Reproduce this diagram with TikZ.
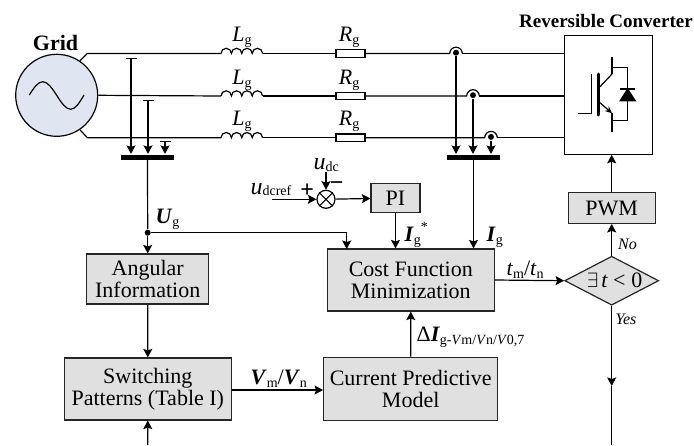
\documentclass[tikz,border=0pt]{standalone}
\usepackage{fontspec}
\setmainfont{Liberation Serif}
\usetikzlibrary{arrows.meta,shapes.geometric}
\definecolor{gridFill}{HTML}{E0E6F1}
\newcommand{\subTxt}[2][-3pt]{\raisebox{#1}{\fontsize{14}{14}\selectfont #2}}
\newcommand{\vecTxt}[1]{\textbf{\textit{#1}}}
\newcommand{\volTxt}{{\fontsize{24}{24}\selectfont\textit{u}}}
\tikzset{gridBlock/.style={draw=black!85,fill=black!12,rectangle,inner sep=0pt,align=center,font=\fontsize{22}{22}\selectfont},
 gridLabel/.style={anchor=base west,inner sep=0pt,font=\fontsize{22}{22}\selectfont},
 gridNote/.style={anchor=base,inner sep=0pt,font=\fontsize{16}{16}\selectfont\itshape},
 gridBus/.style={fill=black,rectangle,minimum width=53pt,minimum height=5pt,inner sep=0pt},
 gridFlow/.style={-{Stealth[length=8.5pt,width=9pt,inset=1.5pt]}},
 gridTap/.style={{Bar[width=11pt]}-{Stealth[length=8.5pt,width=9pt,inset=1.5pt]}},
 gridDot/.style={fill=black,circle,minimum size=6pt,inner sep=0pt}}

\begin{document}
\begin{tikzpicture}[x=1pt,y=-1pt,line width=1.2pt]
\useasboundingbox (0,0) rectangle (694,445);
\node[draw,circle,fill=gridFill,minimum size=82pt,inner sep=0pt] (grid) at (56.7,95.3) {};
\draw (29.3,95) sin (42.7,81.7) cos (56.7,95.3) sin (70.7,109.3) cos (84,95);
\node[gridLabel,anchor=base,font=\fontsize{22}{22}\selectfont\bfseries] (gridName) at (55.5,50.7) {Grid};
\node[draw,fill=white,rectangle,minimum width=88pt,minimum height=119pt,inner sep=0pt] (conv) at (608.3,94.7) {};
\node[gridLabel,anchor=base,font=\fontsize{19}{19}\selectfont\bfseries] (convName) at (606,27) {Reversible Converter};
\node[gridBus] (busL) at (147.5,157) {};
\node[gridBus] (busR) at (473.5,157) {};
% three phases
\foreach \n/\yy/\sx/\tx/\ty in {1/53.5/456/131/57.7,2/96/473/148/99.7,3/137.7/491/165/141}{
\coordinate (lIn\n) at (221,\yy);
\coordinate (hIn\n) at (\sx-6.3,\yy);
\coordinate (hOut\n) at (\sx+6.3,\yy);
\coordinate (knee\n) at (87.3,\yy);
\coordinate (tap\n) at (\tx,\ty);
\node[draw,fill=white,rectangle,minimum width=29pt,minimum height=7.4pt,inner sep=0pt] (r\n) at (350.4,\yy) {};
\node[gridDot] (sense\n) at (\sx,\yy-0.8) {};
\node[gridLabel] (lName\n) at (231.7,\yy-11.8) {\textit{L}\subTxt{g}};
\node[gridLabel] (rName\n) at (338.3,\yy-11.8) {\textit{R}\subTxt{g}};
\draw (lIn\n) arc (180:360:5.2) arc (180:360:5.2) arc (180:360:5.2) arc (180:360:5.2) coordinate (lOut\n);
\draw (lOut\n)--(r\n);
\draw (r\n)--(hIn\n) arc (180:360:6.3);
\draw (hOut\n)--(hOut\n -| conv.west);
\draw[gridTap] (tap\n)--(tap\n |- busL.north);
\draw[gridFlow] (sense\n)--(sense\n |- busR.north);}
\draw (grid.56)--(knee1)--(lIn1);
\draw (grid.east)--(lIn2);
\draw (grid.-56)--(knee3)--(lIn3);
% switch symbol
\draw (578.3,113.7)--(591.3,113.7)--(591.3,74);
\draw[line width=3pt,line cap=round] (598,74)--(598,115);
\draw (600,86.7)--(612,74);
\draw (612,57.3)--(612,74);
\draw[-{Stealth[length=7pt,width=6pt]}] (600,102.7)--(612,113.3);
\draw (612,113)--(612,131.7);
\draw (612,67.3)--(627.7,67.3)--(627.7,120.7)--(612,120.7);
\draw[fill=black] (627.7,89)--(620.2,100.7)--(635.2,100.7)--cycle;
\draw (620,89)--(635.4,89);
% blocks
\node[gridBlock,minimum width=122pt,minimum height=50pt] (angle) at (147.7,279) {Angular\\Information};
\node[gridBlock,minimum width=167pt,minimum height=62pt] (pattern) at (147.8,389) {Switching\\Patterns (Table I)};
\node[gridBlock,minimum width=167pt,minimum height=62pt] (cost) at (410.8,280) {Cost Function\\Minimization};
\node[gridBlock,minimum width=174pt,minimum height=63pt] (model) at (410.7,388.7) {Current Predictive\\Model};
\node[gridBlock,minimum width=49pt,minimum height=29.4pt] (pi) at (395.5,198) {PI};
\node[gridBlock,minimum width=87pt,minimum height=30.6pt] (pwm) at (611.7,208) {PWM};
\node[gridBlock,diamond,minimum width=94pt,minimum height=49pt,shape aspect=1.92] (check) at (611.7,280.7) {\hspace*{6pt}$\exists$\kern3pt\textit{t}\kern5pt<\kern6pt0};
\node[draw,fill=white,circle,minimum size=18pt,inner sep=0pt] (sum) at (326,199.3) {};
\draw[line width=1pt] (sum.45)--(sum.225) (sum.135)--(sum.-45);
\node[gridDot] (uTee) at (147.7,232.7) {};
\coordinate (refIn) at (272.3,199.3);
\coordinate (dcIn) at (326,172);
\coordinate (patIn) at (147.7,445);
\coordinate (yesTip) at (611.7,386);
\coordinate (yesOut) at (611.7,445);
% connectors
\draw (busL.south)--(uTee);
\draw[gridFlow] (uTee)--(angle.north);
\draw[gridFlow] (uTee)-|(346.7,249);
\draw[gridFlow] (angle.south)--(pattern.north);
\draw[gridFlow] (patIn)--(pattern.south);
\draw[gridFlow] (pattern.east |- 0,390)--(model.west |- 0,390);
\draw[gridFlow] (model.north)--(cost.south);
\draw[gridFlow] (refIn)--(sum);
\draw[gridFlow] (dcIn)--(sum);
\draw[gridFlow] (sum)--(pi);
\draw[gridFlow] (pi)--(pi |- cost.north);
\draw[gridFlow] (busR.south)--(busR |- cost.north);
\draw[gridFlow] (cost.east)--(check.west);
\draw[gridFlow] (check.north)--(pwm.south);
\draw[gridFlow] (pwm.north)--(pwm |- conv.south);
\draw[gridFlow] (check.south)--(yesTip);
\draw (yesTip)--(yesOut);
% labels
\node[gridLabel] (uName) at (155,223.3) {\vecTxt{U}\subTxt{g}};
\node[gridLabel] (dcName) at (313,169.5) {\volTxt\subTxt[-1.5pt]{dc}};
\node[gridLabel] (refName) at (250,194) {\volTxt\subTxt[-1.5pt]{dcref}};
\node[gridLabel,anchor=center,font=\fontsize{24}{24}\selectfont\bfseries] (plusMark) at (307.3,190.5) {+};
\node[gridLabel,anchor=center,font=\fontsize{24}{24}\selectfont\bfseries] (minusMark) at (336.7,186.5) {\textminus};
\node[gridLabel] (iRefName) at (404,241) {\vecTxt{I}\subTxt{g}\raisebox{10pt}{\fontsize{14}{14}\selectfont *}};
\node[gridLabel] (iName) at (486,241) {\vecTxt{I}\subTxt{g}};
\node[gridLabel] (tName) at (506,275) {\textit{t}\subTxt{m}/\textit{t}\subTxt{n}};
\node[gridLabel] (dName) at (416,341.7) {Δ\vecTxt{I}\subTxt{g-\textit{V}m/\textit{V}n/\textit{V}0,7}};
\node[gridLabel] (vName) at (250,384.3) {\vecTxt{V}\subTxt{m}/\vecTxt{V}\subTxt{n}};
\node[gridNote] (noName) at (627.5,249) {No};
\node[gridNote] (yesName) at (626,324.5) {Yes};
\end{tikzpicture}
\end{document}
